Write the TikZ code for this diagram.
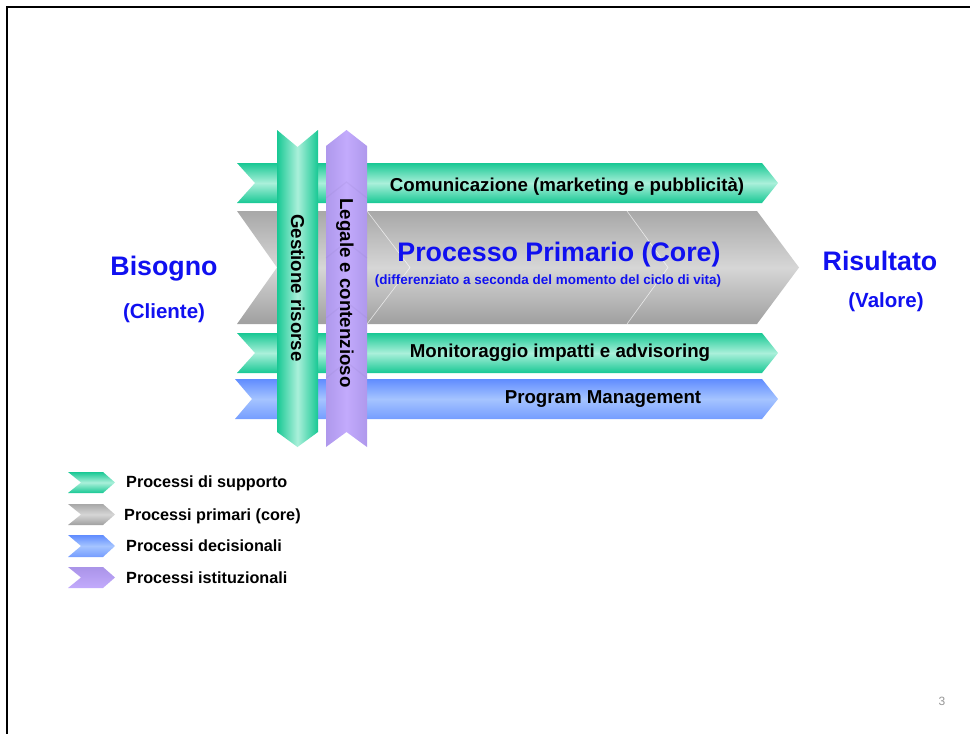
\documentclass[tikz,border=0pt]{standalone}
\usepackage{fontspec}
\setmainfont{Liberation Sans}
\definecolor{greenD}{RGB}{24,200,148}
\definecolor{greenL}{RGB}{170,240,218}
\definecolor{grayD}{RGB}{168,168,168}
\definecolor{grayL}{RGB}{214,214,214}
\definecolor{blueD}{RGB}{96,140,255}
\definecolor{blueL}{RGB}{165,196,255}
\definecolor{purpleD}{RGB}{170,148,232}
\definecolor{purpleL}{RGB}{194,170,252}
\definecolor{textblue}{RGB}{16,16,240}
\definecolor{pagegray}{RGB}{150,150,150}
\newcommand{\hchevpath}[6]{(#1,#5) -- (#3,#5) -- (#4,{(#5+#6)/2}) -- (#3,#6) -- (#1,#6) -- (#2,{(#5+#6)/2}) -- cycle}
\tikzset{
  greenH/.style={top color=greenD, bottom color=greenD, middle color=greenL},
  grayH/.style={top color=grayD, bottom color=grayD!95!black, middle color=grayL},
  blueH/.style={top color=blueD, bottom color=blueD!70!blueL, middle color=blueL},
  greenV/.style={left color=greenD, right color=greenD, middle color=greenL},
  purpleV/.style={left color=purpleD!80!purpleL, right color=purpleD!80!purpleL, middle color=purpleL},
  bandtext/.style={font=\bfseries\fontsize{18.7}{20}\selectfont, text=black, inner sep=0pt, anchor=base},
  bigblue/.style={font=\bfseries\fontsize{26.8}{28}\selectfont, text=textblue, inner sep=0pt, anchor=base},
  midblue/.style={font=\bfseries\fontsize{20.5}{22}\selectfont, text=textblue, inner sep=0pt, anchor=base},
  legendtext/.style={font=\bfseries\fontsize{16.2}{18}\selectfont, text=black, inner sep=0pt, anchor=base west},
  segline/.style={white, line width=0.6pt, opacity=0.7},
  purpleband/.style={purpleD!80!black, line width=1.2pt, opacity=0.12}
}
\begin{document}
\begin{tikzpicture}[x=1pt,y=-1pt]
\useasboundingbox (0,0) rectangle (970,734);
% frame
\draw[line width=2.2pt] (7,760) -- (7,7) -- (990,7);
% horizontal chevrons
\shade[grayH] \hchevpath{237}{277}{757}{799}{211}{324};
\draw[segline] (367,211) -- (410,267.5) -- (367,324);
\draw[segline] (627,211) -- (668,267.5) -- (627,324);
\shade[greenH] \hchevpath{237}{255}{762}{778}{163}{203};
\shade[greenH] \hchevpath{237}{255}{762}{778}{333}{373};
\shade[blueH] \hchevpath{235}{252}{762}{778}{379}{419};
% vertical green arrow
\shade[greenV] (277,130) -- (297.5,147) -- (318,130) -- (318,432) -- (297.5,447) -- (277,432) -- cycle;
% vertical purple arrow
\shade[purpleV] (326,146) -- (346.5,130) -- (367,146) -- (367,447) -- (346.5,432) -- (326,447) -- cycle;
\foreach \a in {182,242,302,362} {
  \draw[purpleband] (326,\a+16) -- (346.5,\a) -- (367,\a+16);
}
% texts in bands
\node[bandtext] (comm) at (567,191) {Comunicazione (marketing e pubblicità)};
\node[bigblue] (core) at (559,261) {Processo Primario (Core)};
\node[font=\bfseries\fontsize{13.45}{15}\selectfont, text=textblue, inner sep=0pt, anchor=base] (coresub) at (548,284.5) {(differenziato a seconda del momento del ciclo di vita)};
\node[bandtext] (monit) at (560,357.5) {Monitoraggio impatti e advisoring};
\node[bandtext] (progm) at (603,403) {Program Management};
\node[bandtext, rotate=-90] (gest) at (291,288) {Gestione risorse};
\node[bandtext, rotate=-90] (legal) at (340,293) {Legale e contenzioso};
% side labels
\node[bigblue] (bis) at (164,275) {Bisogno};
\node[midblue] (cli) at (164,318.5) {(Cliente)};
\node[bigblue] (ris) at (880,270.5) {Risultato};
\node[midblue] (val) at (886,307.5) {(Valore)};
% legend
\shade[greenH] \hchevpath{68}{81}{103}{115}{472}{493};
\shade[grayH] \hchevpath{68}{81}{103}{115}{504}{525};
\shade[blueH] \hchevpath{68}{81}{103}{115}{535}{557};
\shade[top color=purpleD, bottom color=purpleL] \hchevpath{68}{81}{103}{115}{567}{588};
\node[legendtext] (l1) at (126,487.5) {Processi di supporto};
\node[legendtext] (l2) at (124,520) {Processi primari (core)};
\node[legendtext] (l3) at (126,551.7) {Processi decisionali};
\node[legendtext] (l4) at (126,583.3) {Processi istituzionali};
% page number
\node[font=\fontsize{12}{14}\selectfont, text=pagegray, inner sep=0pt, anchor=base] (pg) at (942,705) {3};
\end{tikzpicture}
\end{document}
